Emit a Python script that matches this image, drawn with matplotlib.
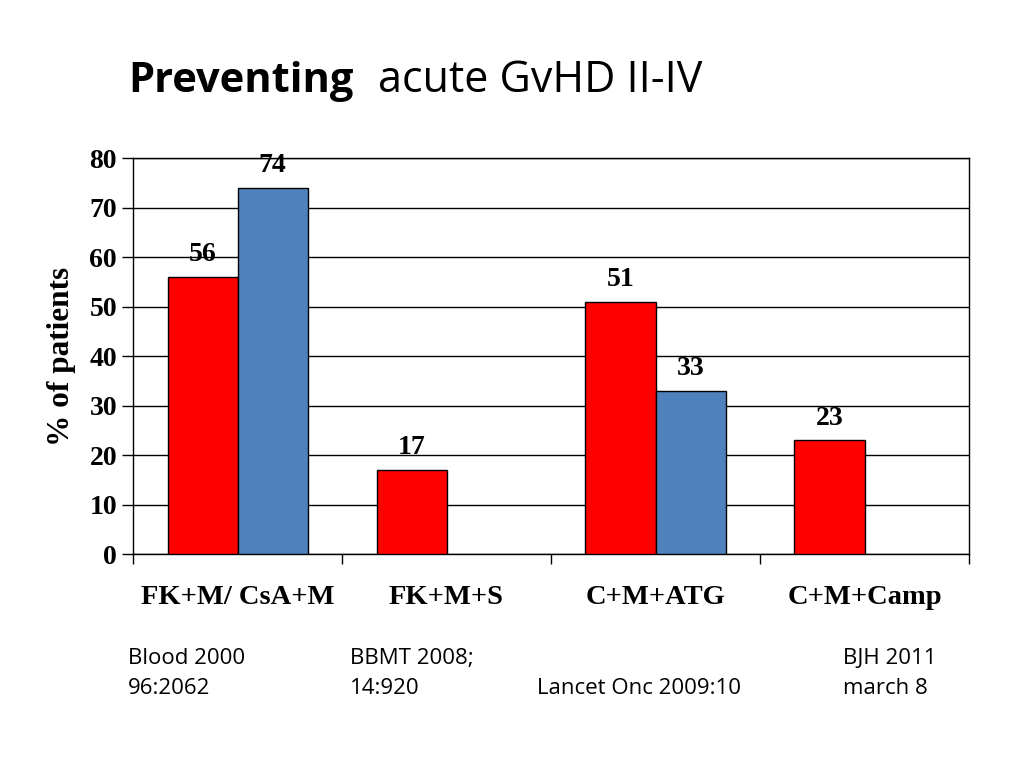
import numpy as np
import matplotlib
matplotlib.use("Agg")
import matplotlib.pyplot as plt

# =====================================================
# DATA
# =====================================================

categories = ["FK+M/ CsA+M", "FK+M+S", "C+M+ATG", "C+M+Camp"]

red_vals = [56, 17, 51, 23]
blue_vals = [74, np.nan, 33, np.nan]

refs = [
    ["Blood 2000", "96:2062"],
    ["BBMT 2008;", "14:920"],
    ["", "Lancet Onc 2009:10"],
    ["BJH 2011", "march 8"],
]

# =====================================================
# PLOT
# =====================================================

serif = "Liberation Serif"
sans = ["Open Sans", "DejaVu Sans"]

fig = plt.figure(figsize=(10.24, 7.68), dpi=100)

ax = fig.add_axes([0.1299, 0.2786, 0.8164, 0.5156])

x = np.arange(len(categories))
w = 0.335

ax.bar(
    x - w / 2,
    red_vals,
    w,
    color="#FF0000",
    edgecolor="black",
    linewidth=1,
    zorder=3
)

blue_x = x + w / 2
ax.bar(
    blue_x,
    blue_vals,
    w,
    color="#4F81BD",
    edgecolor="black",
    linewidth=1,
    zorder=3
)

for xi, v in zip(x - w / 2, red_vals):
    ax.text(
        xi, v + 1.9, str(v),
        ha="center", va="bottom",
        fontfamily=serif, fontweight="bold", fontsize=20
    )

for xi, v in zip(blue_x, blue_vals):
    if np.isnan(v):
        continue
    ax.text(
        xi, v + 1.9, str(int(v)),
        ha="center", va="bottom",
        fontfamily=serif, fontweight="bold", fontsize=20
    )

ax.set_xlim(-0.5, len(categories) - 0.5)
ax.set_ylim(0, 80)
ax.set_yticks(np.arange(0, 81, 10))

ax.yaxis.grid(True, color="black", linewidth=1, zorder=0)
ax.set_axisbelow(True)

ax.set_xticks(np.arange(-0.5, len(categories), 1))
ax.set_xticklabels([])
ax.set_xticks(x, minor=True)
ax.set_xticklabels(
    categories, minor=True,
    fontfamily=serif, fontweight="bold", fontsize=20.5
)
ax.tick_params(axis="x", which="major", length=7, direction="out", width=1)
ax.tick_params(axis="x", which="minor", length=0, pad=22)
ax.tick_params(axis="y", length=8, direction="out", width=1, pad=3.5)

for lbl in ax.get_yticklabels():
    lbl.set_fontfamily(serif)
    lbl.set_fontweight("bold")
    lbl.set_fontsize(20)

for s in ax.spines.values():
    s.set_color("black")
    s.set_linewidth(1)

ax.set_ylabel(
    "% of patients",
    fontfamily=serif, fontweight="bold", fontsize=22.5,
    labelpad=10
)

# title
t1 = fig.text(
    128 / 1024, 1 - 92 / 768, "Preventing",
    fontfamily=sans, fontweight="bold", fontsize=30,
    ha="left", va="baseline"
)
fig.canvas.draw()
bb = t1.get_window_extent()
fig.text(
    (bb.x1 + 25) / 1024, 1 - 92 / 768, "acute GvHD II-IV",
    fontfamily=sans, fontsize=31,
    ha="left", va="baseline"
)

# references
ref_x = [128, 350, 537, 843]
line_y = [664, 694]
for rx, lines in zip(ref_x, refs):
    for ly, s in zip(line_y, lines):
        fig.text(
            rx / 1024, 1 - ly / 768, s,
            fontfamily=sans, fontsize=16,
            ha="left", va="baseline"
        )

plt.savefig("out.png", dpi=100)
